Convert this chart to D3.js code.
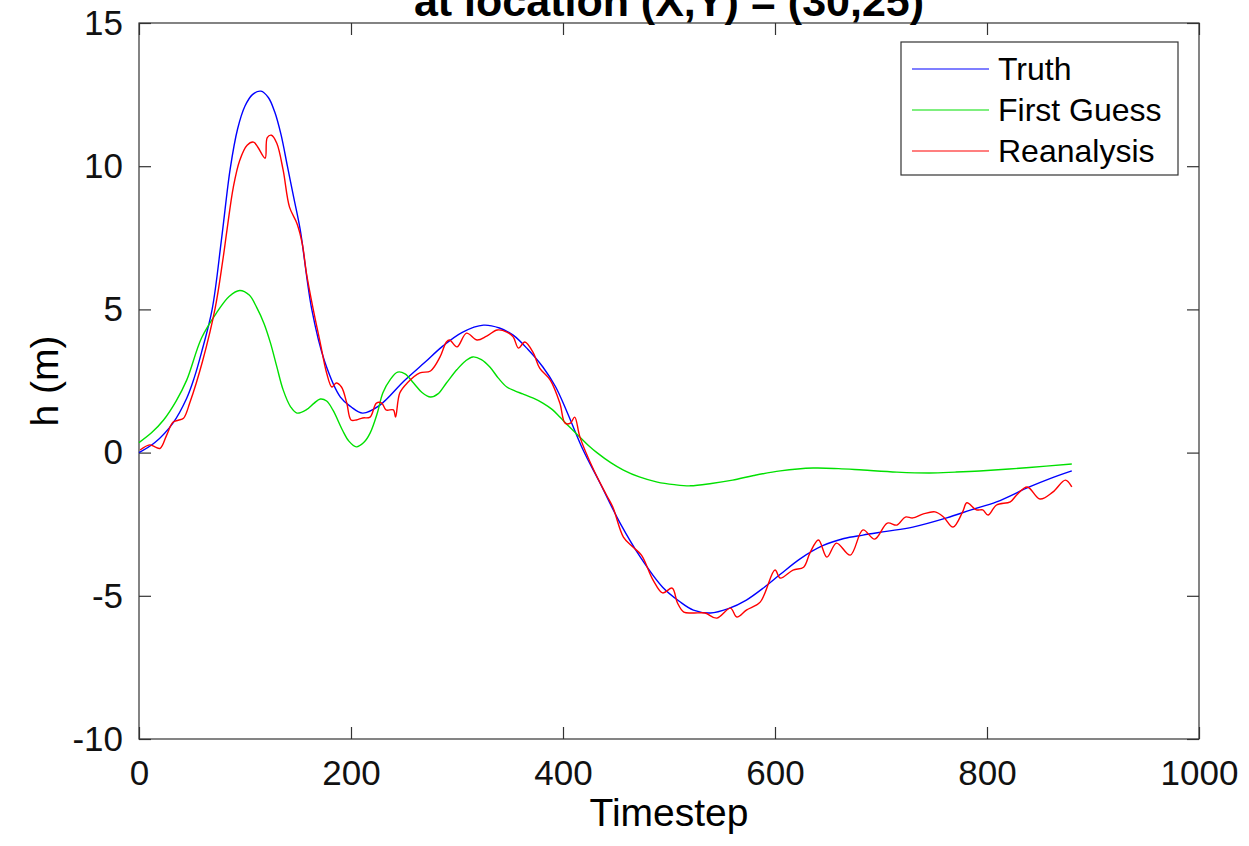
<!DOCTYPE html>
<html>
<head>
<meta charset="utf-8">
<script src="https://cdn.jsdelivr.net/npm/d3@7"></script>
<style>
  body { margin: 0; background: #fff; }
  svg { font-family: "Liberation Sans", Arial, Helvetica, sans-serif; }
</style>
</head>
<body>
<script>
// timesteps and h (m)
const truthT = [0, 15, 32, 45, 52, 59, 69, 78, 86, 93, 100, 107, 115, 122, 128, 134, 140, 146, 152, 163, 175, 190, 200, 211, 227, 250, 270, 286, 305, 325, 340, 353, 367, 381, 393, 404, 419, 435, 454, 473, 494, 510, 523, 539, 556, 573, 590, 605, 624, 645, 665, 683, 705, 730, 762, 785, 809, 840, 860, 880];
const truthH = [0.0, 0.35, 1.03, 1.9, 2.6, 3.5, 5.0, 7.5, 9.9, 11.3, 12.1, 12.5, 12.62, 12.4, 11.9, 11.1, 10.0, 8.9, 7.8, 5.0, 3.2, 1.94, 1.6, 1.38, 1.65, 2.5, 3.16, 3.7, 4.2, 4.45, 4.35, 4.1, 3.6, 2.99, 2.3, 1.4, 0.09, -1.07, -2.47, -3.65, -4.7, -5.2, -5.5, -5.6, -5.45, -5.15, -4.7, -4.25, -3.7, -3.25, -3.0, -2.88, -2.75, -2.6, -2.28, -2.0, -1.72, -1.2, -0.9, -0.64];

const guessT = [0, 12, 23, 35, 45, 59, 73, 85, 95, 104, 111, 118, 124, 130, 136, 143, 149, 158, 165, 171, 177, 183, 192, 198, 205, 212, 218, 225, 230, 237, 244, 251, 259, 267, 275, 282, 290, 300, 308, 315, 323, 331, 339, 347, 355, 362, 372, 381, 390, 397, 406, 416, 424, 432, 445, 457, 472, 489, 505, 520, 540, 560, 580, 605, 636, 660, 683, 715, 746, 770, 793, 840, 880];
const guessH = [0.35, 0.7, 1.13, 1.8, 2.53, 4.0, 4.87, 5.45, 5.66, 5.5, 5.07, 4.5, 3.83, 3.0, 2.19, 1.6, 1.38, 1.5, 1.72, 1.87, 1.8, 1.48, 0.78, 0.4, 0.2, 0.35, 0.68, 1.4, 2.08, 2.55, 2.81, 2.75, 2.43, 2.1, 1.94, 2.05, 2.43, 2.9, 3.2, 3.34, 3.25, 2.99, 2.6, 2.29, 2.15, 2.05, 1.9, 1.73, 1.5, 1.24, 0.9, 0.54, 0.25, 0.0, -0.35, -0.61, -0.85, -1.03, -1.12, -1.16, -1.08, -0.96, -0.8, -0.64, -0.54, -0.56, -0.61, -0.68, -0.71, -0.68, -0.64, -0.52, -0.4];

const reanT = [1, 10, 15, 20, 26, 32, 37, 42, 48, 60, 72, 79, 83, 89, 95, 102, 108, 112, 119, 121, 125, 130, 136, 142, 149, 154, 158, 164, 171, 177, 182, 186, 191, 196, 200, 205, 211, 218, 224, 229, 233, 240, 242, 246, 253, 265, 275, 284, 290, 293, 300, 309, 319, 328, 338, 347, 353, 358, 364, 372, 378, 388, 397, 402, 407, 411, 416, 429, 441, 447, 457, 466, 474, 485, 494, 503, 508, 514, 523, 534, 545, 558, 564, 573, 586, 600, 605, 617, 627, 633, 641, 649, 658, 671, 683, 694, 706, 715, 723, 730, 740, 751, 759, 768, 777, 781, 790, 796, 801, 809, 822, 828, 838, 850, 862, 874, 880];
const reanH = [0.09, 0.27, 0.2, 0.15, 0.6, 1.06, 1.13, 1.2, 1.75, 3.2, 5.07, 6.7, 7.77, 9.27, 10.2, 10.73, 10.84, 10.67, 10.28, 11.0, 11.08, 10.8, 9.86, 8.57, 8.0, 7.3, 6.26, 5.07, 3.83, 2.78, 2.29, 2.43, 2.29, 1.73, 1.14, 1.14, 1.21, 1.24, 1.73, 1.73, 1.49, 1.49, 1.24, 2.08, 2.43, 2.78, 2.85, 3.34, 3.86, 3.93, 3.69, 4.17, 3.93, 4.07, 4.28, 4.21, 4.04, 3.65, 3.86, 3.48, 2.95, 2.53, 1.73, 1.03, 1.03, 1.24, 0.54, -0.61, -1.48, -1.9, -2.95, -3.3, -3.58, -4.45, -4.9, -4.73, -5.25, -5.57, -5.6, -5.6, -5.78, -5.43, -5.74, -5.5, -5.22, -4.1, -4.38, -4.1, -4.0, -3.5, -3.05, -3.65, -3.16, -3.58, -2.7, -3.02, -2.46, -2.53, -2.25, -2.28, -2.14, -2.07, -2.25, -2.6, -2.07, -1.75, -2.0, -2.0, -2.18, -1.83, -1.72, -1.48, -1.2, -1.62, -1.38, -0.96, -1.2];

const seriesNames = ['Truth', 'First Guess', 'Reanalysis'];
const seriesColors = ['#0000ff', '#00e000', '#ff0000'];
const xTicks = [0, 200, 400, 600, 800, 1000];
const yTicks = [-10, -5, 0, 5, 10, 15];

const width = 1249;
const height = 846;
const margin = { top: 23, right: 50, bottom: 107, left: 139 };

const svg = d3.select('body').append('svg')
  .attr('width', width)
  .attr('height', height);

const x = d3.scaleLinear().domain([0, 1000]).range([margin.left, width - margin.right]);
const y = d3.scaleLinear().domain([-10, 15]).range([height - margin.bottom, margin.top]);

const axisColor = '#333';

// axes (ticks point inward, mirrored on top and right)
const fmt = d => String(d);
const gx = svg.append('g')
  .attr('transform', `translate(0,${y(-10)})`)
  .call(d3.axisBottom(x).tickValues(xTicks).tickFormat(fmt).tickSizeInner(-12).tickSizeOuter(0).tickPadding(21));
const gy = svg.append('g')
  .attr('transform', `translate(${x(0)},0)`)
  .call(d3.axisLeft(y).tickValues(yTicks).tickFormat(fmt).tickSizeInner(-12).tickSizeOuter(0).tickPadding(16));
const gt = svg.append('g')
  .attr('transform', `translate(0,${y(15)})`)
  .call(d3.axisTop(x).tickValues(xTicks).tickFormat('').tickSizeInner(-12).tickSizeOuter(0));
const gr = svg.append('g')
  .attr('transform', `translate(${x(1000)},0)`)
  .call(d3.axisRight(y).tickValues(yTicks).tickFormat('').tickSizeInner(-12).tickSizeOuter(0));

[gx, gy, gt, gr].forEach(g => {
  g.select('.domain').remove();
  g.selectAll('line').attr('stroke', axisColor).attr('stroke-width', 1.2);
  g.selectAll('text').attr('fill', '#111').style('font-size', '35px');
});

svg.append('rect')
  .attr('x', x(0)).attr('y', y(15))
  .attr('width', x(1000) - x(0)).attr('height', y(-10) - y(15))
  .attr('fill', 'none').attr('stroke', axisColor).attr('stroke-width', 1.2);

// curves
const line = d3.line()
  .x(d => x(d[0]))
  .y(d => y(d[1]))
  .curve(d3.curveCatmullRom.alpha(0.5));

const series = [
  d3.zip(truthT, truthH),
  d3.zip(guessT, guessH),
  d3.zip(reanT, reanH)
];

svg.append('g')
  .selectAll('path')
  .data(series)
  .join('path')
  .attr('d', line)
  .attr('fill', 'none')
  .attr('stroke', (d, i) => seriesColors[i])
  .attr('stroke-width', 1.4);

// labels
svg.append('text')
  .attr('x', (x(0) + x(1000)) / 2).attr('y', 16)
  .attr('text-anchor', 'middle')
  .style('font-size', '43px').style('font-weight', 'bold')
  .text('at location (X,Y) = (30,25)');

svg.append('text')
  .attr('x', (x(0) + x(1000)) / 2).attr('y', 826)
  .attr('text-anchor', 'middle')
  .style('font-size', '39px')
  .text('Timestep');

svg.append('text')
  .attr('transform', `translate(58,${(y(15) + y(-10)) / 2}) rotate(-90)`)
  .attr('text-anchor', 'middle')
  .style('font-size', '39px')
  .text('h (m)');

// legend
const legend = svg.append('g').attr('transform', 'translate(901,42)');
legend.append('rect')
  .attr('width', 277).attr('height', 133)
  .attr('fill', '#fff').attr('stroke', axisColor).attr('stroke-width', 1.2);

const rows = legend.selectAll('g.row')
  .data(seriesNames)
  .join('g')
  .attr('class', 'row')
  .attr('transform', (d, i) => `translate(0,${27 + i * 41})`);

rows.append('line')
  .attr('x1', 11).attr('x2', 88)
  .attr('stroke', (d, i) => seriesColors[i])
  .attr('stroke-width', 1.2);

rows.append('text')
  .attr('x', 97).attr('dy', '0.35em')
  .style('font-size', '32px')
  .text(d => d);
</script>
</body>
</html>
